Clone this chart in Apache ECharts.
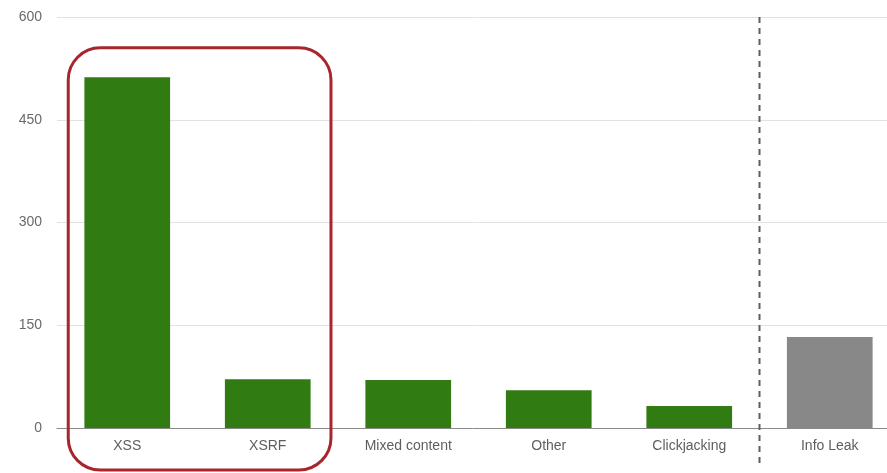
<!DOCTYPE html>
<html>
<head>
<meta charset="utf-8">
<script src="https://cdn.jsdelivr.net/npm/echarts@6/dist/echarts.min.js"></script>
<style>
  html, body { margin: 0; padding: 0; background: #fff; }
  #chart { width: 887px; height: 473px; }
</style>
</head>
<body>
<div id="chart"></div>
<script>
// Vulnerability counts by category
const categories = ['XSS', 'XSRF', 'Mixed content', 'Other', 'Clickjacking', 'Info Leak'];
const counts = [512, 71, 70, 55, 32, 133];
// Info Leak sits on the far side of the divider and is drawn in grey
const highlighted = [true, true, true, true, true, false];
const yTicks = [0, 150, 300, 450, 600];

const GREEN = '#317b13';
const GREY = '#888888';
const FONT = 'Liberation Sans, Arial, sans-serif';

const chart = echarts.init(document.getElementById('chart'), null, { renderer: 'canvas' });

chart.setOption({
  animation: false,
  backgroundColor: '#ffffff',
  // plot runs slightly past the right edge of the canvas
  grid: { left: 57, width: 843, top: 17, height: 411, containLabel: false, outerBoundsMode: 'none' },
  xAxis: [{
    type: 'category',
    data: categories,
    axisTick: { show: false },
    axisLine: { lineStyle: { color: '#8a8a8a', width: 1 } },
    axisLabel: { color: '#5e5e5e', fontSize: 14, fontFamily: FONT, margin: 11 }
  }, {
    // hidden numeric axis used to place the divider between categories
    type: 'value', min: 0, max: categories.length, show: false
  }],
  yAxis: {
    type: 'value',
    min: yTicks[0],
    max: yTicks[yTicks.length - 1],
    interval: 150,
    axisLine: { show: false },
    axisTick: { show: false },
    splitLine: { lineStyle: { color: '#e2e2e2', width: 1 } },
    axisLabel: { color: '#6a6a6a', fontSize: 14, fontFamily: FONT, margin: 15 }
  },
  series: [{
    type: 'bar',
    xAxisIndex: 0,
    barWidth: '61%',
    data: counts.map((v, i) => ({ value: v, itemStyle: { color: highlighted[i] ? GREEN : GREY } }))
  }]
});

// Dashed divider before the last category and the rounded box around XSS / XSRF
function drawOverlays() {
  const grid = chart.getModel().getComponent('grid').coordinateSystem.getRect();
  const divX = chart.convertToPixel({ xAxisIndex: 1 }, categories.length - 1);
  const bandW = grid.width / categories.length;
  const x0 = chart.convertToPixel({ xAxisIndex: 0 }, categories[0]);
  const x1 = chart.convertToPixel({ xAxisIndex: 0 }, categories[1]);
  const topY = chart.convertToPixel({ yAxisIndex: 0 }, 555);
  chart.setOption({
    graphic: [{
      type: 'line',
      shape: { x1: divX, y1: grid.y, x2: divX, y2: grid.y + grid.height + 36 },
      style: { stroke: '#5f5f5f', lineWidth: 2, lineDash: [6, 5] },
      z: 10
    }, {
      type: 'rect',
      shape: {
        x: x0 - bandW * 0.42,
        y: topY,
        width: (x1 - x0) + bandW * 0.87,
        height: grid.y + grid.height + 42 - topY,
        r: 32
      },
      style: { fill: 'none', stroke: '#a8252b', lineWidth: 3 },
      z: 10
    }]
  });
}
drawOverlays();
</script>
</body>
</html>
